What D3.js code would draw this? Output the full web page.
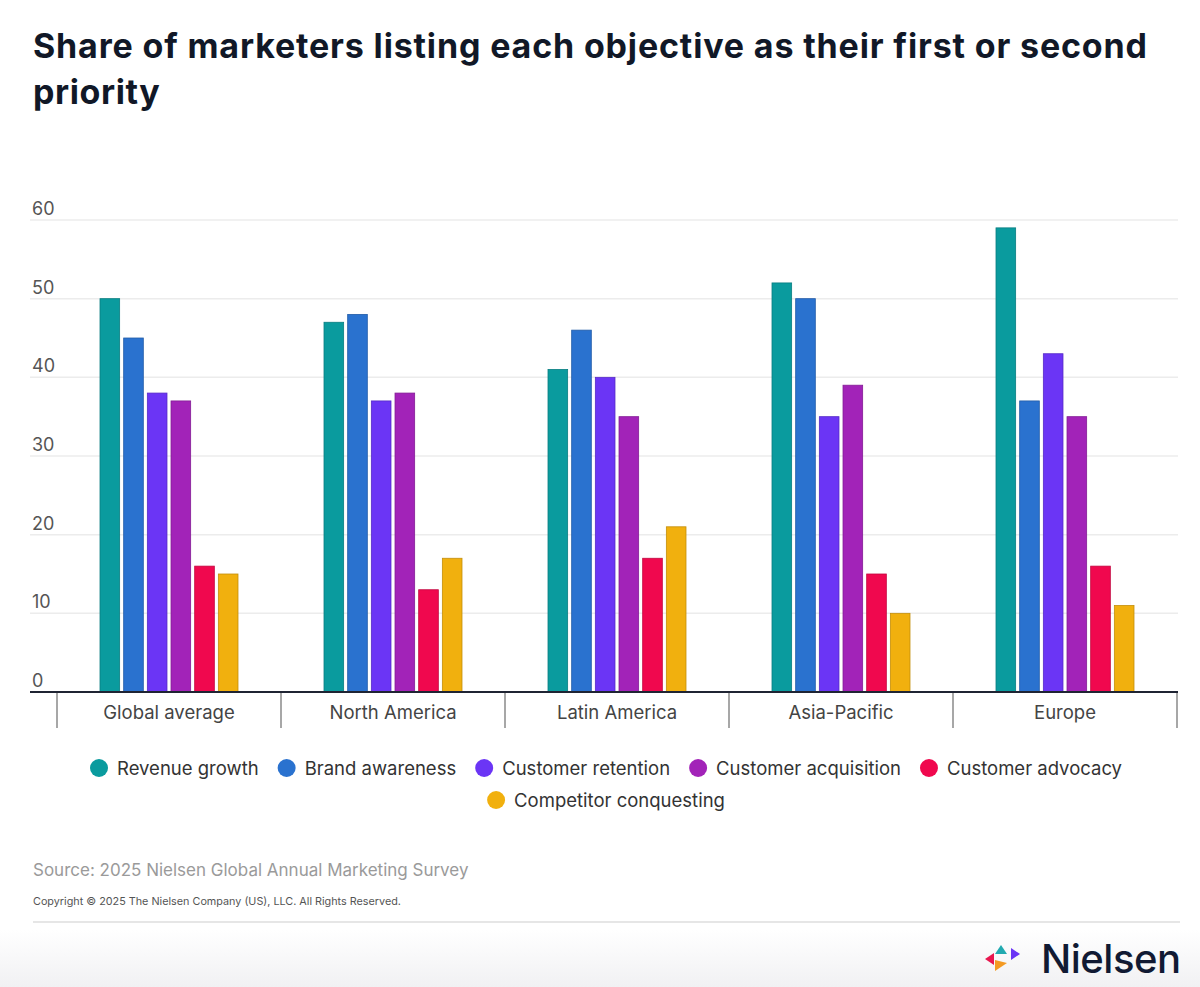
<!DOCTYPE html>
<html>
<head>
<meta charset="utf-8">
<script src="https://cdn.jsdelivr.net/npm/d3@7"></script>
<style>
  html, body { margin: 0; padding: 0; background: #fff; }
  svg { display: block; font-family: Inter, "Noto Sans", sans-serif; }
</style>
</head>
<body>
<svg id="chart" width="1200" height="987"></svg>
<script>
// regions along the x axis
var regions = ['Global average', 'North America', 'Latin America', 'Asia-Pacific', 'Europe'];

// one array per objective, same order as regions
var revenueGrowth = [50, 47, 41, 52, 59];
var brandAwareness = [45, 48, 46, 50, 37];
var customerRetention = [38, 37, 40, 35, 43];
var customerAcquisition = [37, 38, 35, 39, 35];
var customerAdvocacy = [16, 13, 17, 15, 16];
var competitorConquesting = [15, 17, 21, 10, 11];

var seriesNames = ['Revenue growth', 'Brand awareness', 'Customer retention',
  'Customer acquisition', 'Customer advocacy', 'Competitor conquesting'];
var seriesValues = [revenueGrowth, brandAwareness, customerRetention,
  customerAcquisition, customerAdvocacy, competitorConquesting];
var seriesColors = ['#0a9b9e', '#2a72cf', '#6b35f5', '#a223b8', '#f0084e', '#f1b00e'];

var yTicks = [0, 10, 20, 30, 40, 50, 60];

var svg = d3.select('#chart');

// soft grey fade at the very bottom
var defs = svg.append('defs');
var grad = defs.append('linearGradient').attr('id', 'fade')
  .attr('x1', 0).attr('y1', 0).attr('x2', 0).attr('y2', 1);
grad.append('stop').attr('offset', '0%').attr('stop-color', '#fff');
grad.append('stop').attr('offset', '100%').attr('stop-color', '#f1f1f3');
svg.append('rect').attr('x', 0).attr('y', 930).attr('width', 1200).attr('height', 57)
  .attr('fill', 'url(#fade)');

// title, stretched a little to the reference line width
var title = svg.append('text')
  .attr('fill', '#111827')
  .style('font-size', '34px').style('font-weight', 700);
title.append('tspan').attr('x', 33).attr('y', 58)
  .attr('textLength', 1114).attr('lengthAdjust', 'spacing')
  .text('Share of marketers listing each objective as their first or second');
title.append('tspan').attr('x', 33).attr('y', 104)
  .style('letter-spacing', '0.6px').text('priority');

// scales
var x0 = d3.scaleBand().domain(regions).range([57, 1177]).paddingInner(0).paddingOuter(0);
var x1 = d3.scaleBand().domain(seriesNames)
  .range([43, x0.bandwidth() - 43]).paddingInner(0.17).paddingOuter(0);
var y = d3.scaleLinear().domain([0, 60]).range([692, 220]);

// gridlines
svg.append('g').selectAll('line')
  .data(yTicks.filter(function (d) { return d > 0; }))
  .enter().append('line')
  .attr('x1', 30).attr('x2', 1178)
  .attr('y1', function (d) { return y(d); })
  .attr('y2', function (d) { return y(d); })
  .attr('stroke', '#ececec').attr('stroke-width', 1.5);

// y tick labels sit just above their gridline
svg.append('g').selectAll('text')
  .data(yTicks)
  .enter().append('text')
  .attr('x', 32)
  .attr('y', function (d) { return y(d) - 5; })
  .attr('fill', '#555')
  .style('font-size', '18px')
  .text(function (d) { return d; });

// bars
var groups = svg.append('g').selectAll('g')
  .data(regions)
  .enter().append('g')
  .attr('transform', function (d) { return 'translate(' + x0(d) + ',0)'; });

groups.selectAll('rect')
  .data(function (d, i) {
    return seriesNames.map(function (s, j) {
      return { name: s, value: seriesValues[j][i], color: seriesColors[j] };
    });
  })
  .enter().append('rect')
  .attr('x', function (d) { return x1(d.name); })
  .attr('y', function (d) { return y(d.value); })
  .attr('width', x1.bandwidth())
  .attr('height', function (d) { return y(0) - y(d.value); })
  .attr('fill', function (d) { return d.color; })
  .attr('stroke', function (d) { return d3.color(d.color).darker(0.6); })
  .attr('stroke-width', 0.8);

// baseline
svg.append('line')
  .attr('x1', 30).attr('x2', 1178).attr('y1', 692).attr('y2', 692)
  .attr('stroke', '#1f2433').attr('stroke-width', 2);

// separators between regions
var sepX = regions.map(function (r) { return x0(r); }).concat([x0.range()[1]]);
svg.append('g').selectAll('line')
  .data(sepX)
  .enter().append('line')
  .attr('x1', function (d) { return d; }).attr('x2', function (d) { return d; })
  .attr('y1', 693).attr('y2', 728)
  .attr('stroke', '#8a8a8a').attr('stroke-width', 1.5);

// region labels
svg.append('g').selectAll('text')
  .data(regions)
  .enter().append('text')
  .attr('x', function (d) { return x0(d) + x0.bandwidth() / 2; })
  .attr('y', 719)
  .attr('text-anchor', 'middle')
  .attr('fill', '#444')
  .style('font-size', '18.5px')
  .text(function (d) { return d; });

// legend, two rows, each row centred
var legendRows = [seriesNames.slice(0, 5), seriesNames.slice(5)];
var legendY = [768, 800];
legendRows.forEach(function (row, ri) {
  var g = svg.append('g');
  var cx = 0;
  row.forEach(function (name) {
    var col = seriesColors[seriesNames.indexOf(name)];
    var item = g.append('g').attr('transform', 'translate(' + cx + ',0)');
    item.append('circle').attr('cx', 9).attr('cy', 0).attr('r', 9).attr('fill', col);
    var t = item.append('text').attr('x', 27).attr('y', 6.5)
      .attr('fill', '#333').style('font-size', '18.5px').text(name);
    cx += 27 + t.node().getComputedTextLength() + 19;
  });
  var w = cx - 19;
  g.attr('transform', 'translate(' + (606 - w / 2) + ',' + legendY[ri] + ')');
});

// source and copyright
svg.append('text').attr('x', 33).attr('y', 876)
  .attr('fill', '#9a9a9a').style('font-size', '17px')
  .text('Source: 2025 Nielsen Global Annual Marketing Survey');
svg.append('text').attr('x', 33).attr('y', 905)
  .attr('fill', '#555').style('font-size', '10.8px')
  .text('Copyright \u00a9 2025 The Nielsen Company (US), LLC. All Rights Reserved.');
svg.append('line').attr('x1', 33).attr('x2', 1180).attr('y1', 922).attr('y2', 922)
  .attr('stroke', '#e6e6e6').attr('stroke-width', 2);

// logo
var logo = svg.append('g').attr('transform', 'translate(985,945)');
logo.append('path').attr('d', 'M0,14 L9,8 L9,20 Z').attr('fill', '#e8174f');
logo.append('path').attr('d', 'M16,0 L10,9 L22,9 Z').attr('fill', '#22aab0');
logo.append('path').attr('d', 'M35,9 L26,3 L26,15 Z').attr('fill', '#6b35f5');
logo.append('path').attr('d', 'M10,15 L10,26 L22,18 Z').attr('fill', '#f49a22');
svg.append('text').attr('x', 1041).attr('y', 973)
  .attr('fill', '#111a33').style('font-size', '40px').style('font-weight', 500)
  .style('letter-spacing', '-0.5px')
  .text('Nielsen');
</script>
</body>
</html>
